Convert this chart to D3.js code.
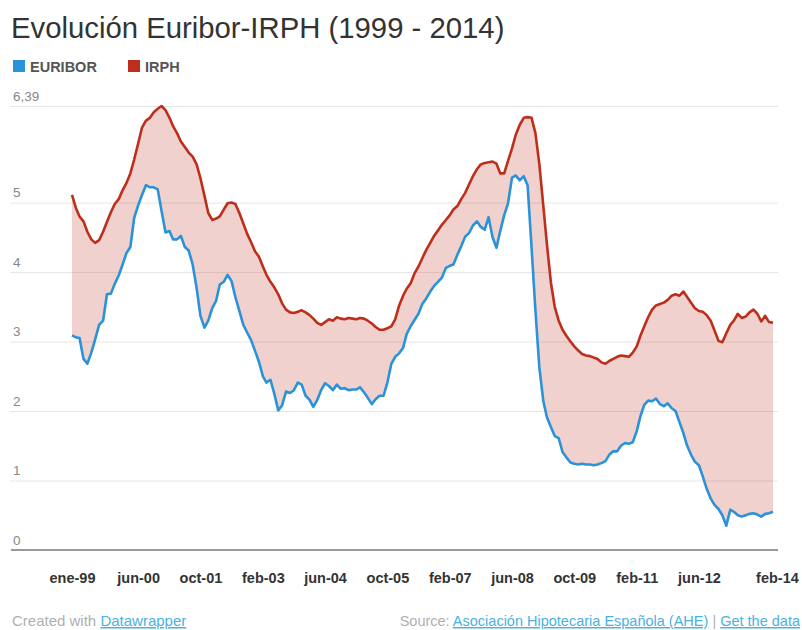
<!DOCTYPE html>
<html>
<head>
<meta charset="utf-8">
<script src="https://cdn.jsdelivr.net/npm/d3@7"></script>
<style>
  html, body { margin: 0; padding: 0; background: #fff; }
  svg { display: block; font-family: "Liberation Sans", Arial, Helvetica, sans-serif; }
</style>
</head>
<body>
<svg id="chart" width="802" height="630"></svg>
<script>
// ---- DATA ----
const firstMonth = "1999-01";
const lastMonth = "2014-01";

const euribor = [
  // 1999
  3.09, 3.06, 3.05, 2.75, 2.68, 2.84, 3.03, 3.24, 3.30, 3.68, 3.69, 3.83,
  // 2000
  3.95, 4.11, 4.27, 4.36, 4.78, 4.96, 5.11, 5.25, 5.22, 5.22, 5.19, 4.88,
  // 2001
  4.57, 4.59, 4.47, 4.47, 4.52, 4.36, 4.31, 4.11, 3.77, 3.37, 3.20, 3.30,
  // 2002
  3.48, 3.59, 3.82, 3.86, 3.96, 3.87, 3.64, 3.44, 3.24, 3.13, 3.02, 2.87,
  // 2003
  2.71, 2.50, 2.41, 2.45, 2.25, 2.01, 2.08, 2.28, 2.26, 2.30, 2.41, 2.38,
  // 2004
  2.22, 2.16, 2.06, 2.16, 2.30, 2.40, 2.36, 2.30, 2.38, 2.32, 2.33, 2.30,
  // 2005
  2.31, 2.31, 2.34, 2.27, 2.19, 2.10, 2.17, 2.22, 2.22, 2.41, 2.68, 2.78,
  // 2006
  2.83, 2.91, 3.11, 3.22, 3.31, 3.40, 3.54, 3.62, 3.72, 3.80, 3.86, 3.92,
  // 2007
  4.06, 4.09, 4.11, 4.25, 4.37, 4.51, 4.56, 4.67, 4.73, 4.65, 4.61, 4.79,
  // 2008
  4.50, 4.35, 4.59, 4.82, 4.99, 5.36, 5.39, 5.32, 5.38, 5.25, 4.35, 3.45,
  // 2009
  2.62, 2.14, 1.91, 1.77, 1.64, 1.61, 1.41, 1.33, 1.26, 1.24, 1.23, 1.24,
  // 2010
  1.23, 1.23, 1.22, 1.23, 1.25, 1.28, 1.37, 1.42, 1.42, 1.50, 1.54, 1.53,
  // 2011
  1.55, 1.71, 1.92, 2.09, 2.15, 2.14, 2.18, 2.10, 2.07, 2.11, 2.04, 2.00,
  // 2012
  1.84, 1.68, 1.50, 1.37, 1.27, 1.22, 1.06, 0.88, 0.74, 0.65, 0.59, 0.50,
  // 2013
  0.35, 0.58, 0.55, 0.50, 0.48, 0.50, 0.52, 0.53, 0.51, 0.48, 0.52, 0.53,
  // 2014
  0.55
];

const irph = [
  // 1999
  5.11, 4.92, 4.80, 4.73, 4.58, 4.47, 4.42, 4.46, 4.58, 4.72, 4.86, 4.98,
  // 2000
  5.05, 5.18, 5.28, 5.42, 5.62, 5.85, 6.08, 6.18, 6.22, 6.30, 6.35, 6.39,
  // 2001
  6.33, 6.22, 6.10, 6.00, 5.88, 5.80, 5.72, 5.66, 5.55, 5.35, 5.10, 4.85,
  // 2002
  4.75, 4.77, 4.80, 4.90, 4.99, 5.00, 4.98, 4.85, 4.70, 4.55, 4.43, 4.30,
  // 2003
  4.22, 4.08, 3.96, 3.86, 3.78, 3.68, 3.55, 3.46, 3.42, 3.41, 3.43, 3.45,
  // 2004
  3.42, 3.38, 3.33, 3.27, 3.24, 3.28, 3.32, 3.30, 3.35, 3.33, 3.32, 3.34,
  // 2005
  3.33, 3.32, 3.34, 3.33, 3.30, 3.26, 3.21, 3.17, 3.17, 3.19, 3.22, 3.32,
  // 2006
  3.52, 3.66, 3.76, 3.84, 3.98, 4.08, 4.20, 4.32, 4.42, 4.52, 4.60, 4.68,
  // 2007
  4.75, 4.82, 4.90, 4.95, 5.05, 5.14, 5.26, 5.38, 5.48, 5.55, 5.57, 5.58,
  // 2008
  5.59, 5.56, 5.42, 5.42, 5.60, 5.78, 5.98, 6.12, 6.22, 6.23, 6.22, 6.00,
  // 2009
  5.55, 4.95, 4.40, 3.85, 3.50, 3.30, 3.17, 3.08, 3.00, 2.93, 2.87, 2.82,
  // 2010
  2.80, 2.79, 2.77, 2.75, 2.70, 2.68, 2.72, 2.75, 2.78, 2.80, 2.79, 2.78,
  // 2011
  2.84, 2.93, 3.08, 3.22, 3.35, 3.46, 3.52, 3.54, 3.56, 3.60, 3.66, 3.68,
  // 2012
  3.66, 3.72, 3.64, 3.56, 3.48, 3.44, 3.43, 3.38, 3.30, 3.16, 3.01, 2.99,
  // 2013
  3.12, 3.24, 3.30, 3.40, 3.34, 3.36, 3.42, 3.46, 3.40, 3.29, 3.37, 3.28,
  // 2014
  3.27
];

const seriesNames = ["EURIBOR", "IRPH"];
const tickMonths = ["1999-01","2000-06","2001-10","2003-02","2004-06","2005-10",
                    "2007-02","2008-06","2009-10","2011-02","2012-06","2014-02"];
const tickLabels = ["ene-99","jun-00","oct-01","feb-03","jun-04","oct-05",
                    "feb-07","jun-08","oct-09","feb-11","jun-12","feb-14"];
const yTicks = [0, 1, 2, 3, 4, 5, 6.39];
const yTickLabels = ["0", "1", "2", "3", "4", "5", "6,39"];

// ---- CHART ----
const parseMonth = d3.timeParse("%Y-%m");
const months = d3.timeMonth.range(parseMonth(firstMonth), d3.timeMonth.offset(parseMonth(lastMonth), 1));
const data = months.map((d, i) => ({ date: d, eur: euribor[i], irph: irph[i] }));

const colors = { EURIBOR: "#2a92d8", IRPH: "#bd2f1b" };

const svg = d3.select("#chart");

const x = d3.scaleTime()
  .domain([parseMonth(firstMonth), parseMonth(lastMonth)])
  .range([72, 773]);
const y = d3.scaleLinear().domain([0, 6.39]).range([550, 106]);

// Title
svg.append("text")
  .attr("x", 11).attr("y", 38)
  .attr("font-size", 29.3)
  .attr("fill", "#333")
  .text("Evolución Euribor-IRPH (1999 - 2014)");

// Legend
const legend = svg.append("g").attr("transform", "translate(13,60)");
const legX = [0, 115];
seriesNames.forEach((name, i) => {
  const g = legend.append("g").attr("transform", `translate(${legX[i]},0)`);
  g.append("rect").attr("width", 12).attr("height", 12).attr("fill", colors[name]);
  g.append("text").attr("x", 17).attr("y", 11.5)
    .attr("font-size", 14.5).attr("font-weight", "bold").attr("fill", "#555")
    .text(name);
});

// Y grid + labels
const yAxis = d3.axisRight(y)
  .tickValues(yTicks)
  .tickSize(768)
  .tickFormat((d, i) => yTickLabels[i]);
const gy = svg.append("g").attr("transform", "translate(10,0)").call(yAxis);
gy.select(".domain").remove();
gy.selectAll(".tick line").attr("stroke", "#e6e6e6").attr("stroke-width", 1);
gy.selectAll(".tick text")
  .attr("x", 3).attr("dy", -6)
  .attr("text-anchor", "start")
  .attr("font-size", 13.5)
  .attr("font-family", "Liberation Sans, Arial, sans-serif")
  .attr("fill", "#888");

// Area between series
const area = d3.area()
  .x(d => x(d.date))
  .y0(d => y(d.eur))
  .y1(d => y(d.irph));
svg.append("path").datum(data)
  .attr("d", area)
  .attr("fill", colors.IRPH)
  .attr("fill-opacity", 0.22);

// Lines
const lineEur = d3.line().x(d => x(d.date)).y(d => y(d.eur));
const lineIrph = d3.line().x(d => x(d.date)).y(d => y(d.irph));
svg.append("path").datum(data).attr("d", lineEur)
  .attr("fill", "none").attr("stroke", colors.EURIBOR)
  .attr("stroke-width", 2.6).attr("stroke-linejoin", "round");
svg.append("path").datum(data).attr("d", lineIrph)
  .attr("fill", "none").attr("stroke", colors.IRPH)
  .attr("stroke-width", 2.6).attr("stroke-linejoin", "round");

// Baseline
svg.append("line")
  .attr("x1", 11).attr("x2", 778)
  .attr("y1", y(0)).attr("y2", y(0))
  .attr("stroke", "#9a9a9a").attr("stroke-width", 2);

// X axis labels
const xAxis = d3.axisBottom(x)
  .tickValues(tickMonths.map(parseMonth))
  .tickSize(0)
  .tickFormat((d, i) => tickLabels[i]);
const gx = svg.append("g").attr("transform", "translate(0,570)").call(xAxis);
gx.select(".domain").remove();
gx.selectAll(".tick text")
  .attr("font-size", 14.5)
  .attr("font-weight", "bold")
  .attr("font-family", "Liberation Sans, Arial, sans-serif")
  .attr("fill", "#333");

// Footer
const footL = svg.append("text").attr("x", 12).attr("y", 626)
  .attr("font-size", 15).attr("fill", "#b0b0b0");
footL.append("tspan").text("Created with ");
footL.append("tspan").attr("fill", "#4ab2e0").attr("text-decoration", "underline").text("Datawrapper");

const footR = svg.append("text").attr("x", 800).attr("y", 626)
  .attr("text-anchor", "end")
  .attr("font-size", 14.5).attr("fill", "#b0b0b0");
footR.append("tspan").text("Source: ");
footR.append("tspan").attr("fill", "#4ab2e0").attr("text-decoration", "underline").text("Asociación Hipotecaria Española (AHE)");
footR.append("tspan").text(" | ");
footR.append("tspan").attr("fill", "#4ab2e0").attr("text-decoration", "underline").text("Get the data");
</script>
</body>
</html>
